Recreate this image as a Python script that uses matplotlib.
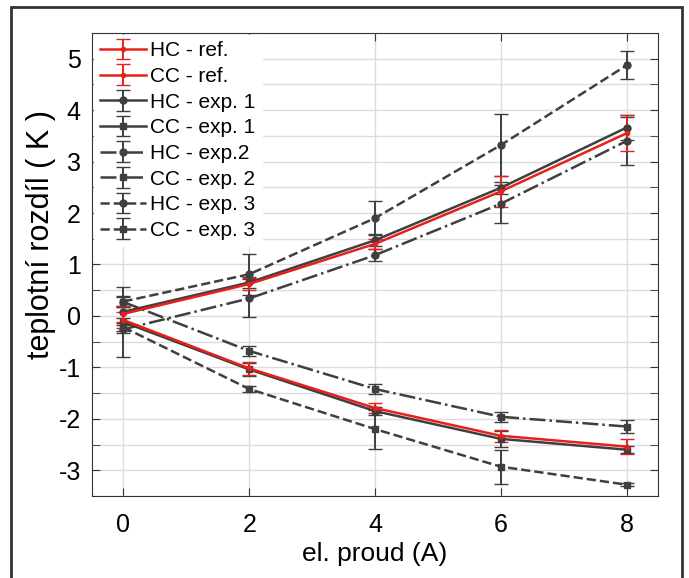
import matplotlib.pyplot as plt
from matplotlib.patches import Rectangle
from matplotlib.ticker import MultipleLocator

# el. proud (A)
current = [0, 2, 4, 6, 8]

# mean temperature differences (K) and error bar half-widths
hc_ref = [0.04, 0.62, 1.40, 2.42, 3.55]
hc_ref_err = [0.15, 0.12, 0.10, 0.30, 0.35]
cc_ref = [-0.08, -1.02, -1.79, -2.33, -2.54]
cc_ref_err = [0.15, 0.12, 0.10, 0.12, 0.15]

hc_exp1 = [0.08, 0.65, 1.47, 2.49, 3.66]
hc_exp1_err = [0.12, 0.10, 0.12, 0.12, 0.25]
cc_exp1 = [-0.12, -1.04, -1.85, -2.39, -2.60]
cc_exp1_err = [0.68, 0.12, 0.08, 0.15, 0.07]

hc_exp2 = [-0.26, 0.34, 1.18, 2.18, 3.40]
hc_exp2_err = [0.08, 0.37, 0.12, 0.37, 0.47]
cc_exp2 = [0.27, -0.68, -1.42, -1.96, -2.15]
cc_exp2_err = [0.10, 0.10, 0.10, 0.10, 0.12]

hc_exp3 = [0.28, 0.81, 1.90, 3.32, 4.87]
hc_exp3_err = [0.10, 0.40, 0.33, 0.60, 0.27]
cc_exp3 = [-0.22, -1.42, -2.20, -2.93, -3.28]
cc_exp3_err = [0.08, 0.06, 0.38, 0.33, 0.03]

red = '#e8201c'
gray = '#3f3f3f'

plt.rcParams['font.family'] = ['Liberation Sans', 'DejaVu Sans']
plt.rcParams['axes.unicode_minus'] = False

fig = plt.figure(figsize=(6.89, 5.78), dpi=100)
ax = fig.add_axes([0.1335, 0.1419, 0.8215, 0.8011])

series = [
    (hc_ref, hc_ref_err, red, '-', 'o', 3, 'HC - ref.'),
    (cc_ref, cc_ref_err, red, '-', 'o', 3, 'CC - ref.'),
    (hc_exp1, hc_exp1_err, gray, '-', 'o', 5, 'HC - exp. 1'),
    (cc_exp1, cc_exp1_err, gray, '-', 's', 4.5, 'CC - exp. 1'),
    (hc_exp2, hc_exp2_err, gray, '-.', 'o', 5, 'HC - exp.2'),
    (cc_exp2, cc_exp2_err, gray, '-.', 's', 4.5, 'CC - exp. 2'),
    (hc_exp3, hc_exp3_err, gray, '--', 'o', 5, 'HC - exp. 3'),
    (cc_exp3, cc_exp3_err, gray, '--', 's', 4.5, 'CC - exp. 3'),
]
# draw experiments first, reference on top
order = [2, 3, 4, 5, 6, 7, 0, 1]
handles = {}
for i in order:
    y, err, col, ls, mk, ms, label = series[i]
    h = ax.errorbar(current, y, yerr=err, color=col, ls=ls, marker=mk, ms=ms,
                    lw=1.8, elinewidth=1.4, capsize=5, capthick=1, label=label)
    h[-1][0].set_linestyle('-')
    handles[i] = h

ax.set_xlim(-0.5, 8.5)
ax.set_ylim(-3.5, 5.5)
ax.set_xticks(current)
ax.yaxis.set_major_locator(MultipleLocator(1))
ax.yaxis.set_minor_locator(MultipleLocator(0.5))
ax.grid(True, which='both', color='#dcdcdc', lw=1)
ax.set_axisbelow(True)
ax.tick_params(which='both', direction='in', right=True, top=True, labelsize=18, length=6, color='#333333')
ax.tick_params(axis='x', pad=12)
ax.tick_params(axis='y', pad=8)
for s in ax.spines.values():
    s.set_color('#333333')

ax.set_xlabel('el. proud (A)', fontsize=19, labelpad=4)
ax.set_ylabel('teplotní rozdíl ( K )', fontsize=22)
ax.yaxis.set_label_coords(-0.064, 0.565)

leg = ax.legend([handles[i] for i in range(8)], [s[6] for s in series],
                loc='upper left', fontsize=15, frameon=True, fancybox=False,
                edgecolor='white', framealpha=1, handlelength=2.2,
                handletextpad=0.2, labelspacing=0.32, borderaxespad=0.1,
                borderpad=0.3)

fig.patches.append(Rectangle((11 / 689, -0.1), 671 / 689, 1 - 7 / 578 + 0.1,
                             transform=fig.transFigure, fill=False,
                             edgecolor='#333333', lw=2))

fig.savefig('out.png', dpi=100)
